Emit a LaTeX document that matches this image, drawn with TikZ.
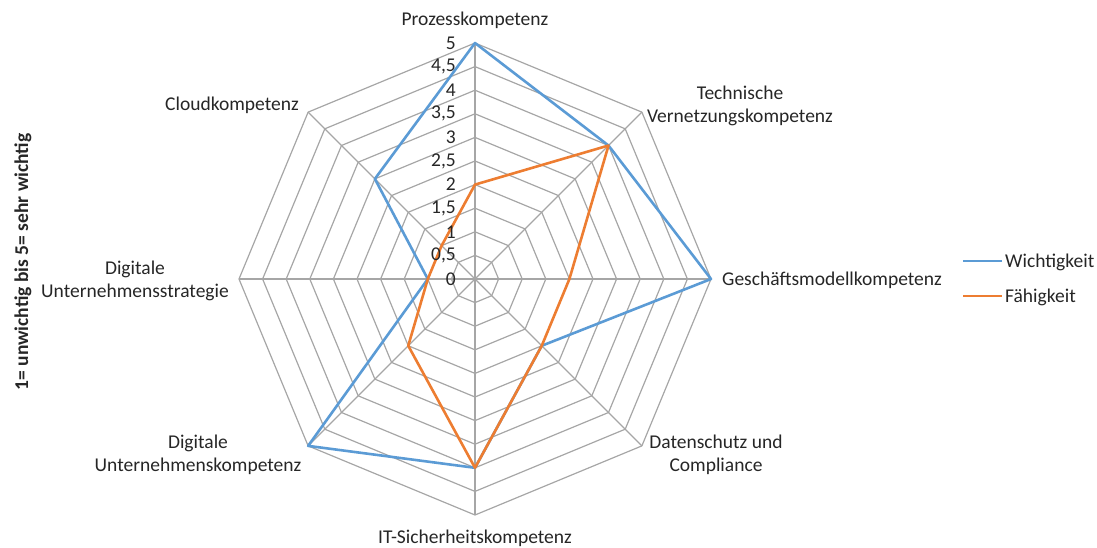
\documentclass[tikz,border=0pt]{standalone}
\usepackage{fontspec}
\setmainfont{Carlito}
\definecolor{wblue}{HTML}{5B9BD5}
\definecolor{forange}{HTML}{ED7D31}
\definecolor{gridgray}{HTML}{A6A6A6}
\definecolor{txt}{HTML}{262626}
\begin{document}
\begin{tikzpicture}[x=1pt,y=-1pt,
  font=\fontsize{19.5}{23.5}\selectfont,
  grid/.style={draw=gridgray, line width=1.2pt},
  lbl/.style={align=center, inner sep=0pt, text=txt},
  ticklbl/.style={anchor=east, inner sep=0pt, text=txt},
  wline/.style={draw=wblue, line width=2.6pt, line join=round},
  fline/.style={draw=forange, line width=2.6pt, line join=round}]
\useasboundingbox (0,0) rectangle (1097,547);
\coordinate (C) at (475,279);
\begin{scope}[shift={(475,279)}]
  % rings
  \foreach \k in {1,...,10}{
    \draw[grid] (-90:{\k*23.6}) -- (-45:{\k*23.6}) -- (0:{\k*23.6}) -- (45:{\k*23.6})
      -- (90:{\k*23.6}) -- (135:{\k*23.6}) -- (180:{\k*23.6}) -- (225:{\k*23.6}) -- cycle;
  }
  % spokes
  \foreach \i in {0,...,7}{
    \draw[grid] (0,0) -- ({-90+45*\i}:236);
  }
  % data points
  \foreach \v [count=\i from 0] in {5,4,5,2,4,5,1,3}{
    \coordinate (w\i) at ({-90+45*\i}:{\v*47.2});
  }
  \foreach \v [count=\i from 0] in {2,4,2,2,4,2,1,1}{
    \coordinate (f\i) at ({-90+45*\i}:{\v*47.2});
  }
\end{scope}
\draw[wline] (w0) -- (w1) -- (w2) -- (w3) -- (w4) -- (w5) -- (w6) -- (w7) -- cycle;
\draw[fline] (f0) -- (f1) -- (f2) -- (f3) -- (f4) -- (f5) -- (f6) -- (f7) -- cycle;
% tick labels
\foreach \t [count=\k from 0] in {0,{0,5},1,{1,5},2,{2,5},3,{3,5},4,{4,5},5}{
  \node[ticklbl] (t\k) at (456,{279-23.6*\k}) {\t};
}
% category labels
\node[lbl] (lp) at (475,20) {Prozesskompetenz};
\node[lbl] (lt) at (740,106) {Technische\\Vernetzungskompetenz};
\node[lbl, anchor=west] (lg) at (722,280) {Geschäftsmodellkompetenz};
\node[lbl] (ld) at (716,455) {Datenschutz und\\Compliance};
\node[lbl] (li) at (475,538) {IT-Sicherheitskompetenz};
\node[lbl] (lk) at (198,455) {Digitale\\Unternehmenskompetenz};
\node[lbl] (ls) at (135,281) {Digitale\\Unternehmensstrategie};
\node[lbl] (lc) at (232,105) {Cloudkompetenz};
% axis title
\node[lbl, rotate=90, font=\fontsize{19.5}{23}\selectfont\bfseries] (ax) at (23,262) {1= unwichtig bis 5= sehr wichtig};
% legend
\coordinate (lw1) at (963,261);
\coordinate (lw2) at (1002,261);
\coordinate (lf1) at (963,296);
\coordinate (lf2) at (1002,296);
\draw[draw=wblue, line width=2.6pt] (lw1) -- (lw2);
\draw[draw=forange, line width=2.6pt] (lf1) -- (lf2);
\node[lbl, anchor=west] (lwt) at (1005,262) {Wichtigkeit};
\node[lbl, anchor=west] (lft) at (1005,297) {Fähigkeit};
\end{tikzpicture}
\end{document}
